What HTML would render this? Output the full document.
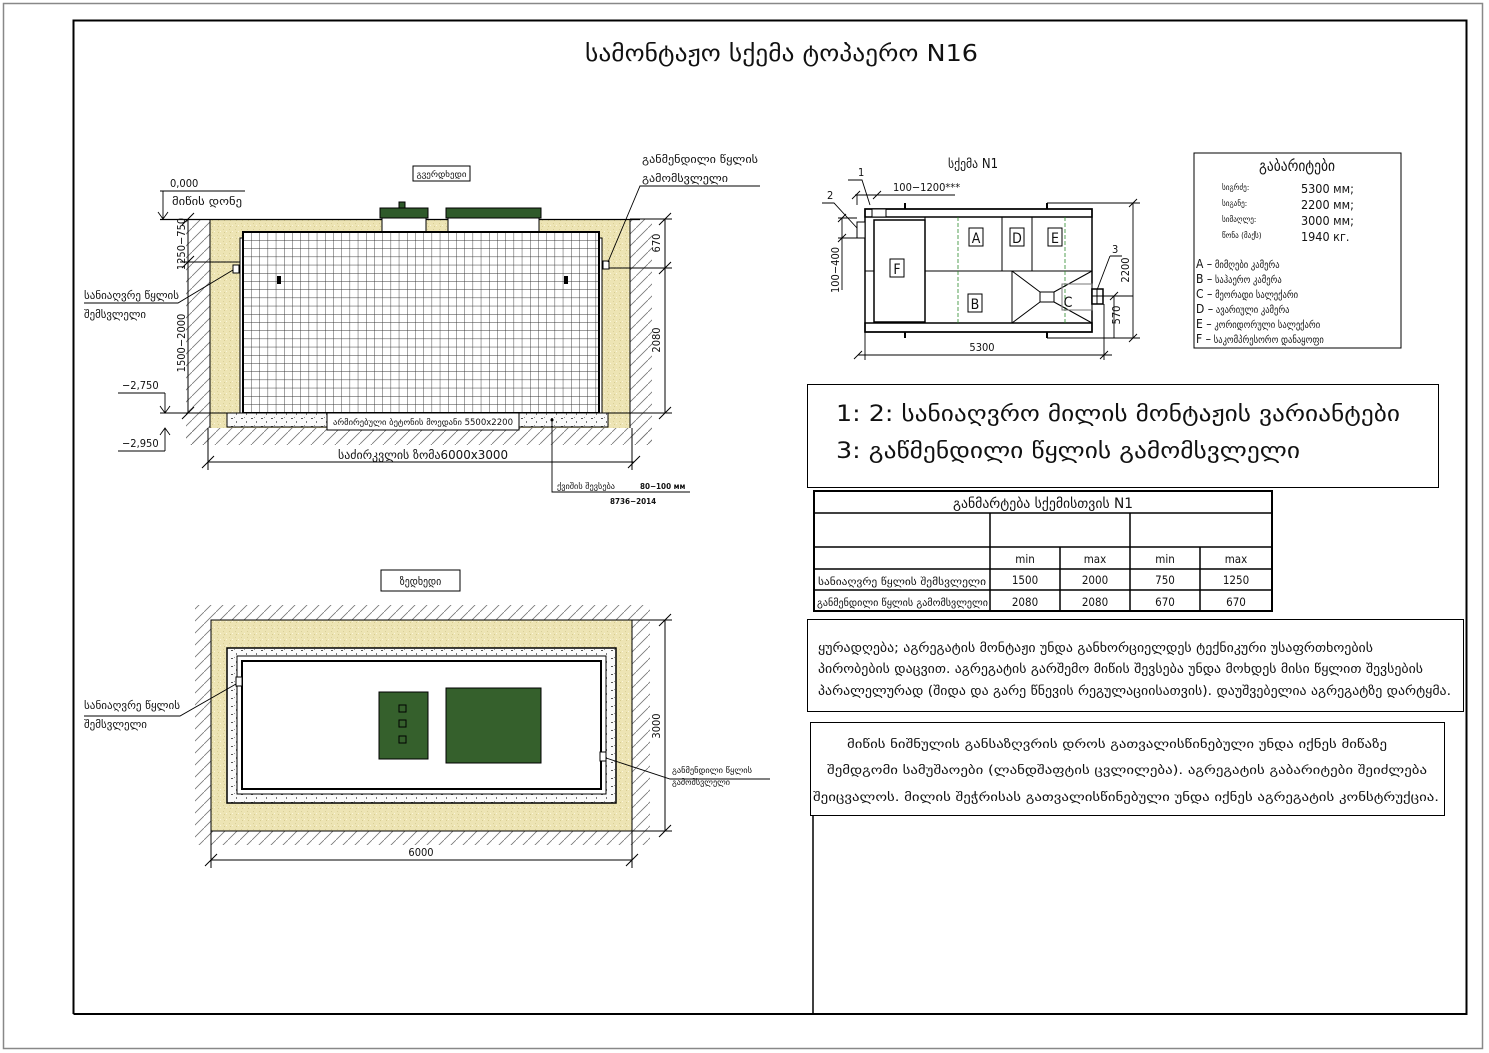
<!DOCTYPE html>
<html><head><meta charset="utf-8">
<style>
html,body{margin:0;padding:0;background:#fff;}
svg{display:block;}
text{font-family:"DejaVu Sans Condensed","DejaVu Sans","Liberation Sans",sans-serif;fill:#111;}
</style></head><body>
<svg width="1489" height="1053" viewBox="0 0 1489 1053" xmlns="http://www.w3.org/2000/svg">
<defs>
<pattern id="hatch" width="12" height="12" patternUnits="userSpaceOnUse">
<path d="M0,12 L12,0" stroke="#777" stroke-width="0.8"/>
</pattern>
<pattern id="sand" width="6" height="6" patternUnits="userSpaceOnUse">
<rect width="6" height="6" fill="#ede4b4"/>
<rect x="1" y="1" width="1" height="1" fill="#d9cf98"/>
<rect x="4" y="3" width="1" height="1" fill="#fbf6dc"/>
<rect x="2" y="4" width="1" height="1" fill="#d6cb90"/>
</pattern>
<pattern id="grid" x="243" y="232" width="8.2" height="8.2" patternUnits="userSpaceOnUse">
<rect width="8.2" height="8.2" fill="#fff"/>
<path d="M0,0 H8.2 M0,0 V8.2" stroke="#333" stroke-width="0.9"/>
</pattern>
<pattern id="conc" width="10" height="8" patternUnits="userSpaceOnUse">
<rect width="10" height="8" fill="#fafafa"/>
<rect x="1" y="2" width="2" height="1" fill="#555"/>
<rect x="6" y="5" width="1" height="2" fill="#777"/>
<rect x="4" y="1" width="1" height="1" fill="#999"/>
</pattern>
</defs>

<rect x="3.5" y="3.5" width="1479" height="1045" fill="none" stroke="#888" stroke-width="1.5"/>
<path d="M73.5,1014 V20.5 H1466.5 V1014 H73.5" fill="none" stroke="#000" stroke-width="2"/>

<text x="585" y="61" font-size="23" textLength="393" lengthAdjust="spacingAndGlyphs">სამონტაჟო სქემა ტოპაერო N16</text>

<!-- SIDE VIEW -->
<rect x="186" y="219" width="24" height="226" fill="url(#hatch)"/>
<rect x="630" y="219" width="22" height="226" fill="url(#hatch)"/>
<rect x="186" y="428" width="466" height="17" fill="url(#hatch)"/>
<rect x="210" y="219" width="420" height="209" fill="url(#sand)"/>
<path d="M160,219.5 H640" stroke="#000" stroke-width="1.2"/>
<path d="M210,219 V428 M630,219 V428" stroke="#000" stroke-width="1"/>
<rect x="380" y="208" width="48" height="10" fill="#2f5a2a" stroke="#000"/>
<rect x="382" y="218" width="44" height="14" fill="#fff" stroke="#000"/>
<rect x="399" y="202" width="6" height="6" fill="#2f5a2a" stroke="#000"/>
<rect x="446" y="208" width="95" height="10" fill="#2f5a2a" stroke="#000"/>
<rect x="448" y="218" width="91" height="14" fill="#fff" stroke="#000"/>
<rect x="240" y="238" width="6" height="175" fill="#fff" stroke="#000"/>
<rect x="596" y="238" width="6" height="175" fill="#fff" stroke="#000"/>
<rect x="243" y="232" width="356" height="181" fill="url(#grid)" stroke="#000" stroke-width="2"/>
<rect x="277" y="276" width="4" height="8" fill="#000"/>
<rect x="564" y="276" width="4" height="8" fill="#000"/>
<rect x="233" y="265" width="6" height="8" fill="#fff" stroke="#000"/>
<rect x="603" y="261" width="6" height="8" fill="#fff" stroke="#000"/>
<rect x="227" y="413" width="381" height="14" fill="url(#conc)" stroke="#000"/>
<rect x="327" y="413" width="192" height="17" fill="#fff" stroke="#000"/>
<text x="423" y="425" font-size="8.5" text-anchor="middle" textLength="180" lengthAdjust="spacingAndGlyphs">არმირებული ბეტონის მოედანი 5500x2200</text>
<rect x="413" y="166" width="57" height="15" fill="#fff" stroke="#000"/>
<text x="441.5" y="177" font-size="8" text-anchor="middle" textLength="50" lengthAdjust="spacingAndGlyphs">გვერდხედი</text>
<text x="170" y="187" font-size="11">0,000</text>
<path d="M160,191 H245 M163,191 V219 M158,212 L163,219 L168,212" stroke="#000" fill="none" stroke-width="0.9"/>
<text x="172" y="205" font-size="11" textLength="70" lengthAdjust="spacingAndGlyphs">მიწის დონე</text>
<text x="122" y="389" font-size="11">−2,750</text>
<path d="M118,393 H165 M165,393 V413 M160,406 L165,413 L170,406 M160,413 H228" stroke="#000" fill="none" stroke-width="0.9"/>
<text x="122" y="447" font-size="11">−2,950</text>
<path d="M118,451 H165 M165,451 V428 M160,435 L165,428 L170,435" stroke="#000" fill="none" stroke-width="0.9"/>
<path d="M188,219 V413 M182,225 L194,213 M182,268 L194,256 M182,419 L194,407 M180,262 H240" stroke="#000" fill="none" stroke-width="1"/>
<text transform="translate(185,244) rotate(-90)" font-size="11" text-anchor="middle">1250−750</text>
<text transform="translate(185,343) rotate(-90)" font-size="11" text-anchor="middle">1500−2000</text>
<path d="M665,219 V413 M659,225 L671,213 M659,274 L671,262 M659,419 L671,407 M609,268 H672 M630,219 H672 M608,413 H672" stroke="#000" fill="none" stroke-width="1"/>
<text transform="translate(660,243) rotate(-90)" font-size="11" text-anchor="middle">670</text>
<text transform="translate(660,340) rotate(-90)" font-size="11" text-anchor="middle">2080</text>
<path d="M208,462 H634 M202,468 L214,456 M628,468 L640,456 M208,428 V470 M632,428 V470" stroke="#000" fill="none" stroke-width="1"/>
<text x="423" y="459" font-size="12" text-anchor="middle" textLength="170" lengthAdjust="spacingAndGlyphs">საძირკვლის ზომა6000x3000</text>
<path d="M84,303 H178 L233,270" stroke="#000" fill="none" stroke-width="0.9"/>
<text x="84" y="299" font-size="11" textLength="95" lengthAdjust="spacingAndGlyphs">სანიაღვრე წყლის</text>
<text x="84" y="318" font-size="11" textLength="62" lengthAdjust="spacingAndGlyphs">შემსვლელი</text>
<text x="642" y="163" font-size="11" textLength="116" lengthAdjust="spacingAndGlyphs">განმენდილი წყლის</text>
<text x="642" y="182" font-size="11" textLength="86" lengthAdjust="spacingAndGlyphs">გამომსვლელი</text>
<path d="M760,186 H640 L608,262" stroke="#000" fill="none" stroke-width="0.9"/>
<path d="M552,420 V492 H690" stroke="#000" fill="none" stroke-width="0.9"/>
<circle cx="552" cy="420" r="1.5" fill="#000"/>
<text x="557" y="489" font-size="8.5" textLength="58" lengthAdjust="spacingAndGlyphs">ქვიშის შევსება</text>
<text x="640" y="489" font-size="8" font-weight="bold">80−100 мм</text>
<text x="610" y="504" font-size="8" font-weight="bold">8736−2014</text>

<!-- TOP VIEW -->
<rect x="381" y="570" width="79" height="21" fill="#fff" stroke="#000"/>
<text x="420.5" y="585" font-size="11" text-anchor="middle">ზედხედი</text>
<rect x="195" y="605" width="455" height="240" fill="url(#hatch)"/>
<rect x="211" y="620" width="421" height="211" fill="url(#sand)" stroke="#000"/>
<rect x="227" y="648" width="389" height="155" fill="url(#conc)" stroke="#000" stroke-width="1.5"/>
<rect x="237" y="656" width="369" height="138" fill="#fff" stroke="#000"/>
<rect x="242" y="661" width="359" height="128" fill="#fff" stroke="#000" stroke-width="2"/>
<rect x="236" y="677" width="6" height="9" fill="#fff" stroke="#000"/>
<rect x="600" y="752" width="6" height="9" fill="#fff" stroke="#000"/>
<rect x="379" y="692" width="49" height="67" fill="#35602c" stroke="#000"/>
<rect x="399" y="705" width="7" height="7" fill="none" stroke="#000"/>
<rect x="399" y="720" width="7" height="7" fill="none" stroke="#000"/>
<rect x="399" y="736" width="7" height="7" fill="none" stroke="#000"/>
<rect x="446" y="688" width="95" height="75" fill="#35602c" stroke="#000"/>
<path d="M665,620 V831 M659,626 L671,614 M659,837 L671,825 M632,620 H672 M632,831 H672" stroke="#000" fill="none" stroke-width="1"/>
<text transform="translate(660,726) rotate(-90)" font-size="11" text-anchor="middle">3000</text>
<path d="M211,860 H632 M205,866 L217,854 M626,866 L638,854 M211,831 V868 M632,831 V868" stroke="#000" fill="none" stroke-width="1"/>
<text x="421" y="856" font-size="11" text-anchor="middle">6000</text>
<path d="M84,716 H180 L236,684" stroke="#000" fill="none" stroke-width="0.9"/>
<text x="84" y="709" font-size="11" textLength="96" lengthAdjust="spacingAndGlyphs">სანიაღვრე წყლის</text>
<text x="84" y="728" font-size="11" textLength="63" lengthAdjust="spacingAndGlyphs">შემსვლელი</text>
<path d="M606,758 L670,779 H770" stroke="#000" fill="none" stroke-width="0.9"/>
<text x="672" y="773" font-size="8" textLength="80" lengthAdjust="spacingAndGlyphs">განმენდილი წყლის</text>
<text x="672" y="785" font-size="8" textLength="58" lengthAdjust="spacingAndGlyphs">გამომსვლელი</text>

<!-- SCHEME N1 -->
<text x="948" y="168" font-size="13">სქემა N1</text>
<rect x="865" y="209" width="227" height="8" fill="#fff" stroke="#000" stroke-width="1.5"/>
<rect x="865" y="323" width="227" height="9" fill="#fff" stroke="#000" stroke-width="1.5"/>
<rect x="865" y="209" width="227" height="123" fill="none" stroke="#000" stroke-width="1.5"/>
<rect x="874" y="220" width="51" height="102" fill="none" stroke="#000" stroke-width="1.5"/>
<path d="M865,271 H874 M925,271 H1092 M925,217 V323 M1002,217 V271 M1032,217 V271 M1012,271 V323" stroke="#000" stroke-width="1" fill="none"/>
<path d="M958,217 V323 M1065,217 V323" stroke="#2a8a2a" stroke-width="0.8" stroke-dasharray="4,2" fill="none"/>
<path d="M1012,271 L1040,292 M1092,271 L1054,292 M1012,323 L1040,302 M1092,323 L1054,302" stroke="#000" stroke-width="1" fill="none"/>
<rect x="1040" y="292" width="14" height="10" fill="#fff" stroke="#000"/>
<rect x="1062" y="284" width="30" height="26" fill="none" stroke="#777"/>
<rect x="1092" y="289" width="11" height="15" fill="#fff" stroke="#000" stroke-width="1.5"/>
<path d="M1092,296 H1103 M1097,289 V304" stroke="#000"/>
<rect x="872" y="209" width="14" height="8" fill="#fff" stroke="#000"/>
<rect x="857" y="222" width="8" height="16" fill="#fff" stroke="#000"/>
<path d="M905,203 V209 M1047,203 V209 M905,332 V338 M1047,332 V338" stroke="#000" stroke-width="2"/>
<rect x="969" y="228" width="14" height="18" fill="none" stroke="#000"/><text x="976" y="243" font-size="14" text-anchor="middle">A</text>
<rect x="1010" y="228" width="14" height="18" fill="none" stroke="#000"/><text x="1017" y="243" font-size="14" text-anchor="middle">D</text>
<rect x="1048" y="228" width="14" height="18" fill="none" stroke="#000"/><text x="1055" y="243" font-size="14" text-anchor="middle">E</text>
<rect x="890" y="259" width="14" height="18" fill="none" stroke="#000"/><text x="897" y="274" font-size="14" text-anchor="middle">F</text>
<rect x="968" y="294" width="14" height="18" fill="none" stroke="#000"/><text x="975" y="309" font-size="14" text-anchor="middle">B</text>
<text x="1068" y="307" font-size="14" text-anchor="middle">C</text>
<text x="858" y="176" font-size="11">1</text>
<path d="M848,180 H862 L870,205" stroke="#000" fill="none" stroke-width="0.9"/>
<text x="827" y="199" font-size="11">2</text>
<path d="M822,203 H834 L857,228" stroke="#000" fill="none" stroke-width="0.9"/>
<text x="893" y="191" font-size="11">100−1200***</text>
<path d="M855,195 H955 M852,199 L860,191 M873,199 L881,191 M857,195 V205" stroke="#000" fill="none" stroke-width="0.9"/>
<path d="M838,218 H857 M838,238 H857 M842,218 V290 M838,222 L846,214 M838,242 L846,234" stroke="#000" fill="none" stroke-width="0.9"/>
<text transform="translate(839,270) rotate(-90)" font-size="11" text-anchor="middle">100−400</text>
<path d="M1047,203 H1140 M1047,338 H1140 M1133,203 V338 M1129,207 L1137,199 M1129,342 L1137,334 M1098,296 H1133 M1114,296 V338 M1110,300 L1118,292" stroke="#000" fill="none" stroke-width="0.9"/>
<text transform="translate(1129,270) rotate(-90)" font-size="11" text-anchor="middle">2200</text>
<text transform="translate(1120,315) rotate(-90)" font-size="11" text-anchor="middle">570</text>
<text x="1112" y="253" font-size="11">3</text>
<path d="M1110,256 H1122 M1110,256 L1097,290" stroke="#000" fill="none" stroke-width="0.9"/>
<path d="M858,355 H1112 M865,332 V360 M1104,304 V360 M854,359 L862,351 M1100,359 L1108,351" stroke="#000" fill="none" stroke-width="0.9"/>
<text x="982" y="351" font-size="11" text-anchor="middle">5300</text>

<!-- gabariti -->
<rect x="1194" y="153" width="207" height="195" fill="#fff" stroke="#000"/>
<text x="1297" y="171" font-size="15" text-anchor="middle">გაბარიტები</text>
<g font-size="8">
<text x="1222" y="190">სიგრძე:</text>
<text x="1222" y="206">სიგანე:</text>
<text x="1222" y="222">სიმაღლე:</text>
<text x="1222" y="238">წონა (მაქს)</text>
</g>
<g font-size="12.5">
<text x="1301" y="193">5300 мм;</text>
<text x="1301" y="209">2200 мм;</text>
<text x="1301" y="225">3000 мм;</text>
<text x="1301" y="241">1940 кг.</text>
</g>
<g font-size="9.5">
<text x="1196" y="268"><tspan font-size="12">A –</tspan>  მიმღები კამერა</text>
<text x="1196" y="283"><tspan font-size="12">B –</tspan>  საჰაერო კამერა</text>
<text x="1196" y="298"><tspan font-size="12">C –</tspan>  მეორადი სალექარი</text>
<text x="1196" y="313"><tspan font-size="12">D –</tspan>  ავარიული კამერა</text>
<text x="1196" y="328"><tspan font-size="12">E –</tspan>  კორიდორული სალექარი</text>
<text x="1196" y="343"><tspan font-size="12">F –</tspan>  საკომპრესორო დანაყოფი</text>
</g>

<rect x="807.5" y="384.5" width="631" height="103" fill="#fff" stroke="#000"/>
<text x="836" y="421" font-size="22" textLength="564" lengthAdjust="spacingAndGlyphs">1: 2: სანიაღვრო მილის მონტაჟის ვარიანტები</text>
<text x="836" y="458" font-size="22" textLength="464" lengthAdjust="spacingAndGlyphs">3: გაწმენდილი წყლის გამომსვლელი</text>

<g stroke="#000" fill="none">
<rect x="814" y="491" width="458" height="120" stroke-width="2"/>
<path d="M814,513 H1272 M814,547 H1272 M814,569 H1272 M814,590 H1272" stroke-width="1.5"/>
<path d="M990,513 V611 M1130,513 V611 M1060,547 V611 M1200,547 V611" stroke-width="1.5"/>
</g>
<text x="1043" y="508" font-size="14" text-anchor="middle" textLength="180" lengthAdjust="spacingAndGlyphs">განმარტება სქემისთვის N1</text>
<g font-size="11.5" text-anchor="middle">
<text x="1025" y="563">min</text><text x="1095" y="563">max</text><text x="1165" y="563">min</text><text x="1236" y="563">max</text>
<text x="1025" y="584">1500</text><text x="1095" y="584">2000</text><text x="1165" y="584">750</text><text x="1236" y="584">1250</text>
<text x="1025" y="606">2080</text><text x="1095" y="606">2080</text><text x="1165" y="606">670</text><text x="1236" y="606">670</text>
</g>
<text x="818" y="585" font-size="9.5" textLength="168" lengthAdjust="spacingAndGlyphs">სანიაღვრე წყლის შემსვლელი</text>
<text x="817" y="606" font-size="9.5" textLength="171" lengthAdjust="spacingAndGlyphs">განმენდილი წყლის გამომსვლელი</text>

<rect x="807.5" y="619.5" width="656" height="92" fill="#fff" stroke="#000"/>
<text x="818" y="652" font-size="13" textLength="555" lengthAdjust="spacingAndGlyphs">ყურადღება; აგრეგატის მონტაჟი უნდა განხორციელდეს ტექნიკური უსაფრთხოების</text>
<text x="818" y="673" font-size="13" textLength="605" lengthAdjust="spacingAndGlyphs">პირობების დაცვით. აგრეგატის გარშემო მიწის შევსება უნდა მოხდეს მისი წყლით შევსების</text>
<text x="818" y="695" font-size="13" textLength="633" lengthAdjust="spacingAndGlyphs">პარალელურად (შიდა და გარე წნევის რეგულაციისათვის). დაუშვებელია აგრეგატზე დარტყმა.</text>

<rect x="810.5" y="722.5" width="634" height="93" fill="#fff" stroke="#000"/>
<text x="1117" y="748" font-size="12" text-anchor="middle" textLength="540" lengthAdjust="spacingAndGlyphs">მიწის ნიშნულის განსაზღვრის დროს გათვალისწინებული უნდა იქნეს მიწაზე</text>
<text x="1127" y="774" font-size="12" text-anchor="middle" textLength="600" lengthAdjust="spacingAndGlyphs">შემდგომი სამუშაოები (ლანდშაფტის ცვლილება). აგრეგატის გაბარიტები შეიძლება</text>
<text x="1126" y="801" font-size="12" text-anchor="middle" textLength="626" lengthAdjust="spacingAndGlyphs">შეიცვალოს. მილის შეჭრისას გათვალისწინებული უნდა იქნეს აგრეგატის  კონსტრუქცია.</text>
<path d="M813,816 V1014" stroke="#000" stroke-width="1.5"/>
</svg>
</body></html>
